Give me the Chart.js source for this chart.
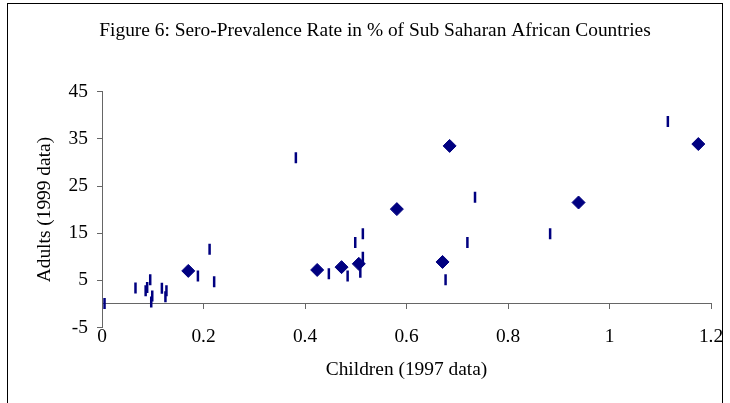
<!DOCTYPE html>
<html>
<head>
<meta charset="utf-8">
<script src="https://cdn.jsdelivr.net/npm/chart.js@4.4.1/dist/chart.umd.min.js"></script>
<style>
  html, body { margin: 0; padding: 0; background: #fff; overflow: hidden; }
  #wrap { position: relative; width: 730px; height: 403px; }
  #frame { position: absolute; left: 7px; top: 3px; width: 716px; height: 440px; box-sizing: border-box; border: 1px solid #000; pointer-events: none; }
</style>
</head>
<body>
<div id="wrap">
  <canvas id="chart" width="730" height="403"></canvas>
  <div id="frame"></div>
</div>
<script>
const titleText = "Figure 6: Sero-Prevalence Rate in % of Sub Saharan African Countries";
const xTitle = "Children (1997 data)";
const yTitle = "Adults (1999 data)";

const xTicks = [0, 0.2, 0.4, 0.6, 0.8, 1, 1.2];
const yTicks = [-5, 5, 15, 25, 35, 45];

// diamond series
const diamondX = [0.170, 0.424, 0.472, 0.506, 0.581, 0.671, 0.685, 0.939, 1.175];
const diamondY = [7.0, 7.2, 7.8, 8.5, 20.1, 8.9, 33.5, 21.5, 33.9];

// dash series
const dashX = [0.005, 0.066, 0.086, 0.089, 0.095, 0.099, 0.097, 0.118, 0.127, 0.125, 0.189, 0.212, 0.221,
               0.382, 0.447, 0.484, 0.499, 0.514, 0.514, 0.509, 0.677, 0.720, 0.735, 0.883, 1.115];
const dashY = [0.1, 3.4, 2.8, 3.5, 5.1, 1.7, 0.4, 3.3, 2.8, 1.5, 5.9, 11.6, 4.7,
               31.0, 6.4, 5.9, 13.0, 14.9, 9.9, 6.7, 5.1, 13.0, 22.6, 14.9, 38.7];

const navy = "#000080";
const axisColor = "#666666";
const font = { family: "'Liberation Serif', 'Times New Roman', serif", size: 19.4, weight: "normal" };

const setTicks = (list) => (scale) => { scale.ticks = list.map(v => ({ value: v })); };

new Chart(document.getElementById("chart"), {
    type: "scatter",
    data: {
        datasets: [
            {
                label: "diamonds",
                data: diamondX.map((x, i) => ({ x: x, y: diamondY[i] })),
                pointStyle: "rectRot",
                pointRadius: 6.5,
                pointBorderWidth: 1,
                pointBackgroundColor: navy,
                pointBorderColor: navy
            },
            {
                label: "dashes",
                data: dashX.map((x, i) => ({ x: x, y: dashY[i] })),
                pointStyle: "line",
                pointRotation: 90,
                pointRadius: 5.5,
                pointBorderWidth: 2.5,
                pointBorderColor: navy,
                pointBackgroundColor: navy
            }
        ]
    },
    options: {
        responsive: false,
        animation: false,
        events: [],
        layout: { padding: { left: 20, right: 0, top: 0, bottom: 0 } },
        plugins: {
            legend: { display: false },
            tooltip: { enabled: false },
            title: {
                display: true,
                text: titleText,
                color: "#000",
                font: font,
                padding: { top: 19.5, bottom: 48.9 }
            }
        },
        scales: {
            x: {
                type: "linear",
                position: "bottom",
                min: 0,
                max: 1.2,
                afterBuildTicks: setTicks(xTicks),
                afterFit: (s) => { s.height = 75.5; },
                grid: { display: false },
                border: { display: false },
                ticks: { padding: -10, color: "#000", font: font, maxRotation: 0, callback: (v) => String(v) },
                title: { display: true, text: xTitle, color: "#000", font: font, padding: { top: 0, bottom: 21.4 } }
            },
            x2: {
                type: "linear",
                axis: "x",
                position: { y: 0 },
                min: 0,
                max: 1.2,
                afterBuildTicks: setTicks(xTicks),
                grid: { drawOnChartArea: false, drawTicks: true, tickLength: 5, color: axisColor, lineWidth: 1 },
                border: { color: axisColor, width: 1 },
                ticks: { display: false }
            },
            y: {
                type: "linear",
                position: "left",
                min: -5,
                max: 45,
                afterBuildTicks: setTicks(yTicks),
                afterFit: (s) => { s.width = 82; },
                grid: { drawOnChartArea: false, drawTicks: true, tickLength: 5, color: axisColor, lineWidth: 1 },
                border: { color: axisColor, width: 1 },
                ticks: { padding: 9, color: "#000", font: font, callback: (v) => String(v) },
                title: { display: true, text: yTitle, color: "#000", font: font, padding: { top: 13.4, bottom: 0 } }
            },
            yPad: {
                type: "linear",
                position: "right",
                afterFit: (s) => { s.width = 19; },
                grid: { display: false },
                border: { display: false },
                ticks: { display: false }
            }
        }
    }
});
</script>
</body>
</html>
